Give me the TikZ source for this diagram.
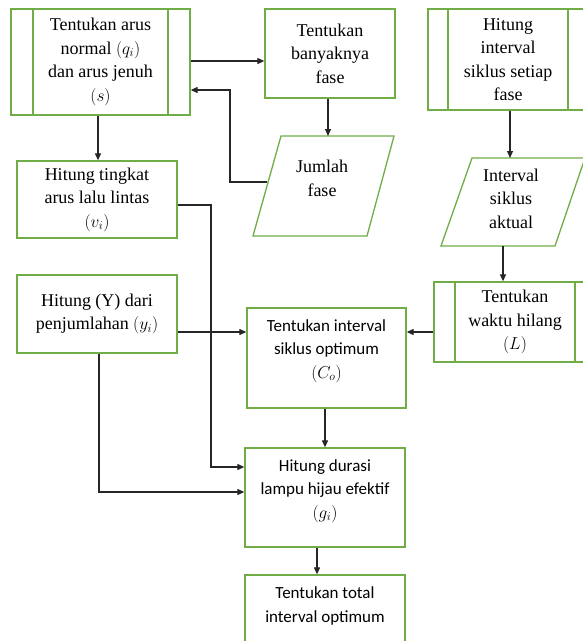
\documentclass[tikz,border=0pt]{standalone}
\usepackage{fontspec}
\setmainfont{Liberation Serif}
\newfontfamily\calib{Carlito}
\usetikzlibrary{arrows.meta}
\definecolor{boxgreen}{RGB}{112,173,71}
\begin{document}
\begin{tikzpicture}[x=1pt,y=-1pt,
  gline/.style={draw=boxgreen, line width=1.3pt},
  box/.style={gline, rectangle, inner sep=0pt, align=center, font=\fontsize{18}{23.5}\selectfont},
  ebox/.style={gline, rectangle, inner sep=0pt},
  ptext/.style={align=center, inner sep=0pt, font=\fontsize{18}{23.5}\selectfont},
  ctext/.style={align=center, inner sep=0pt, font=\calib\fontsize{17}{23.5}\selectfont},
  arr/.style={-{Triangle[length=7pt,width=6pt]}, line width=1.1pt, draw=black!85}]
\useasboundingbox (0,0) rectangle (583,641);
\clip (0,0) rectangle (583,641);
\fill[white] (0,0) rectangle (583,641);

% top row
\node[box, minimum width=179, minimum height=106] (b1) at (100.5,62) {Tentukan arus\\normal $(q_i)$\\dan arus jenuh\\$(s)$};
\draw[gline] (33,9) -- (33,115) (168,9) -- (168,115);
\node[box, minimum width=130, minimum height=89] (b2) at (330,53.5) {Tentukan\\banyaknya\\fase};
\node[box, minimum width=160, minimum height=101] (b3) at (508,59.5) {Hitung\\interval\\siklus setiap\\fase};
\draw[gline] (448,9) -- (448,110) (568,9) -- (568,110);

% parallelograms
\draw[gline] (281,136) -- (394,136) -- (367,236) -- (253,236) -- cycle;
\node[ptext] (jum) at (322,178.5) {Jumlah\\fase};
\coordinate (jumtop) at (328,136);
\coordinate (jleft) at (267,182);
\draw[gline] (472,158) -- (585,158) -- (555,246) -- (441,246) -- cycle;
\node[ptext] (intv) at (511,198.5) {Interval\\siklus\\aktual};
\coordinate (inttop) at (510,158);
\coordinate (intbot) at (503,246);

% middle
\node[box, minimum width=160, minimum height=77] (tingkat) at (97,199.5) {Hitung tingkat\\arus lalu lintas\\$(v_i)$};
\node[box, minimum width=160, minimum height=78] (hity) at (97,314) {Hitung (Y) dari\\penjumlahan $(y_i)$};
\node[ebox, minimum width=159, minimum height=100] (opt) at (326.5,358) {};
\node[ctext] (optt) at (326.5,351) {Tentukan interval\\siklus optimum\\$(C_o)$};
\node[box, minimum width=162, minimum height=80] (waktu) at (515,322) {Tentukan\\waktu hilang\\$(L)$};
\draw[gline] (455,282) -- (455,362) (575,282) -- (575,362);

% bottom
\node[ebox, minimum width=160, minimum height=99] (durasi) at (325,497.5) {};
\node[ctext] (durasit) at (325,491) {Hitung durasi\\lampu hijau efektif\\$(g_i)$};
\node[ebox, minimum width=160, minimum height=85] (total) at (325,617.5) {};
\node[ctext] (totalt) at (325,606) {Tentukan total\\interval optimum};

% connectors
\coordinate (h61) at (0,61);
\draw[arr] (b1.east |- h61) -- (b2.west |- h61);
\draw[arr] (jumtop |- b2.south) -- (jumtop);
\coordinate (k1) at (230,90);
\draw[arr] (jleft) -| (k1) -- (b1.east |- k1);
\coordinate (v98) at (98,0);
\draw[arr] (b1.south -| v98) -- (tingkat.north -| v98);
\draw[arr] (inttop |- b3.south) -- (inttop);
\draw[arr] (intbot) -- (waktu.north -| intbot);
\coordinate (h332) at (0,332);
\draw[arr] (waktu.west |- h332) -- (opt.east |- h332);
\draw[arr] (hity.east |- h332) -- (opt.west |- h332);
\coordinate (c1) at (211,205);
\coordinate (h467) at (0,467);
\draw[arr] (tingkat.east |- c1) -- (c1) -- (c1 |- h467) -- (durasi.west |- h467);
\coordinate (c2) at (99,492);
\draw[arr] (hity.south -| c2) -- (c2) -- (durasi.west |- c2);
\coordinate (v325) at (325,0);
\draw[arr] (opt.south -| v325) -- (durasi.north -| v325);
\coordinate (v317) at (317,0);
\draw[arr] (durasi.south -| v317) -- (total.north -| v317);
\end{tikzpicture}
\end{document}
